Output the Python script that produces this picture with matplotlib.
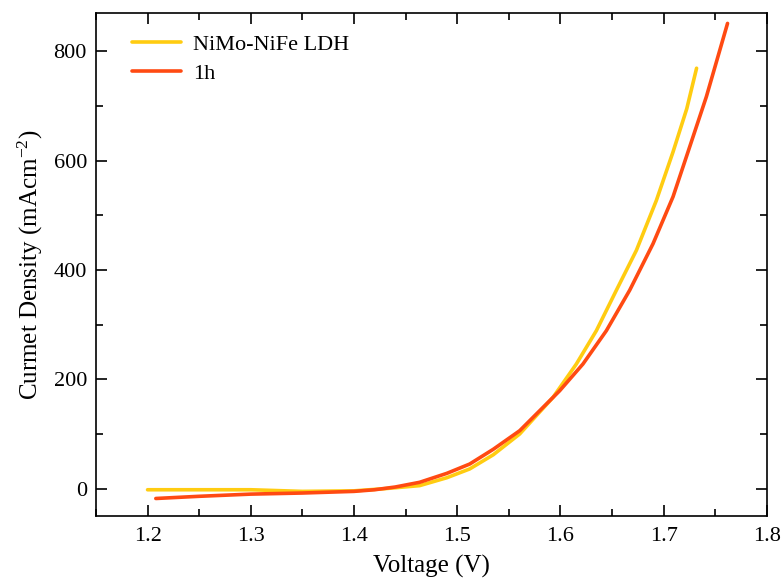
import matplotlib

matplotlib.use("Agg")
import matplotlib.pyplot as plt  # noqa: E402
from matplotlib.ticker import MultipleLocator  # noqa: E402

# polarization curves
ldh_v = [1.20, 1.25, 1.30, 1.35, 1.40, 1.43, 1.4636, 1.49, 1.5121, 1.535,
         1.5606, 1.5929, 1.6155, 1.6349, 1.6543, 1.6737, 1.693, 1.7092,
         1.7225, 1.732]
ldh_j = [-2, -2, -2, -5, -4, 0, 5.5, 20, 36, 62,
         100, 167, 228, 289, 363, 436, 527, 616,
         695, 769]

h1_v = [1.208, 1.25, 1.30, 1.35, 1.40, 1.42, 1.44, 1.4636, 1.49, 1.5121,
        1.535, 1.5606, 1.5993, 1.6219, 1.6446, 1.6672, 1.6898, 1.7092,
        1.7237, 1.7415, 1.762]
h1_j = [-18, -14, -10, -8, -5, -2, 3, 11.6, 28, 45,
        72, 106, 179, 228, 289, 363, 448, 534,
        616, 717, 851]

plt.rcParams["font.family"] = ["Liberation Serif", "DejaVu Serif"]
plt.rcParams["mathtext.fontset"] = "stix"

fig = plt.figure(figsize=(7.84, 5.81), dpi=100)
ax = fig.add_axes([0.1224, 0.1119, 0.8556, 0.8657])

ax.plot(ldh_v, ldh_j, color="#FFCC11", lw=2.6, solid_capstyle="round",
        label="NiMo-NiFe LDH")
ax.plot(h1_v, h1_j, color="#FF4A12", lw=2.6, solid_capstyle="round",
        label="1h")

ax.set_xlim(1.15, 1.8)
ax.set_ylim(-50, 870)
ax.xaxis.set_major_locator(MultipleLocator(0.1))
ax.xaxis.set_minor_locator(MultipleLocator(0.05))
ax.yaxis.set_major_locator(MultipleLocator(200))
ax.yaxis.set_minor_locator(MultipleLocator(100))
ax.tick_params(which="both", direction="in", top=True, right=True,
               labelsize=16, width=1.2)
ax.tick_params(axis="y", pad=6.5)
ax.tick_params(axis="x", pad=8)
ax.tick_params(which="major", length=8)
ax.tick_params(which="minor", length=5)
for s in ax.spines.values():
    s.set_linewidth(1.2)

ax.set_xlabel("Voltage (V)", fontsize=18, labelpad=6)
ax.set_ylabel("Curmet Density (mAcm$^{\\mathregular{-2}}$)", fontsize=18,
              labelpad=6)

ax.legend(loc="upper left", bbox_to_anchor=(0.04, 0.976), borderaxespad=0,
          frameon=False, fontsize=16, handlelength=2.2, handletextpad=0.55,
          labelspacing=0.4)

fig.savefig("out.png", dpi=100)
